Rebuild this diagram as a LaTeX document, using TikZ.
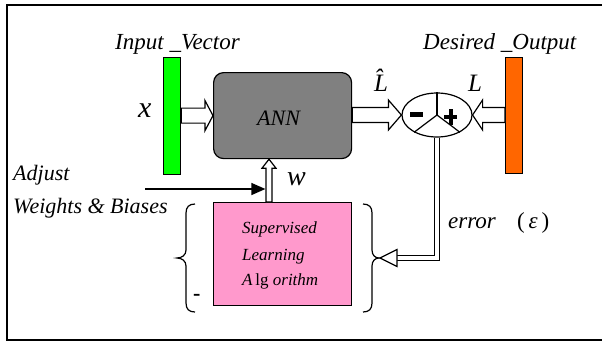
\documentclass[tikz,border=0pt]{standalone}
\usepackage{fontspec}
\setmainfont{Liberation Serif}
\usetikzlibrary{arrows.meta,calc,shapes.geometric}
\definecolor{vgreen}{RGB}{0,255,0}
\definecolor{vorange}{RGB}{255,102,0}
\definecolor{anngray}{RGB}{128,128,128}
\definecolor{pinkbox}{RGB}{255,153,204}
\newcommand\harrowh[5]{\path[hollow] let \p1=#1, \p2=#2 in
  (\x1,{\y2+#3}) -- ({\x2-#5},{\y2+#3}) -- ({\x2-#5},{\y2+#4}) -- (\x2,\y2)
  -- ({\x2-#5},{\y2-#4}) -- ({\x2-#5},{\y2-#3}) -- (\x1,{\y2-#3}) -- cycle;}
\newcommand\harrowv[5]{\path[hollow] let \p1=#1, \p2=#2 in
  ({\x2+#3},\y1) -- ({\x2+#3},{\y2-#5}) -- ({\x2+#4},{\y2-#5}) -- (\x2,\y2)
  -- ({\x2-#4},{\y2-#5}) -- ({\x2-#3},{\y2-#5}) -- ({\x2-#3},\y1) -- cycle;}
\begin{document}
\begin{tikzpicture}[x=1pt,y=-1pt,
  box/.style={draw, line width=1.2pt, inner sep=0, anchor=north west},
  lbl/.style={inner sep=0, anchor=base west, font=\itshape\fontsize{23}{26}\selectfont},
  big/.style={font=\itshape\fontsize{#1}{#1}\selectfont},
  hollow/.style={draw, line width=1.2pt, fill=white, line join=miter},
  thin/.style={line width=1.2pt}]
\useasboundingbox (0,0) rectangle (602,341);
\draw[line width=1.8pt] (7,5) rectangle (620,340);
% blocks
\node[box, fill=vgreen, minimum width=17pt, minimum height=117pt] (inv) at (163,57) {};
\node[box, fill=vorange, minimum width=17pt, minimum height=116pt] (outv) at (505,57) {};
\node[box, fill=anngray, rounded corners=10pt, minimum width=138pt, minimum height=86pt] (ann) at (213,72) {};
\node[box, fill=pinkbox, minimum width=138pt, minimum height=103pt] (sla) at (213,202) {};
\node[draw, thin, ellipse, minimum width=70pt, minimum height=44pt, inner sep=0, fill=white] (sum) at (437,115) {};
% summing junction details
\draw[thin] (sum.center) -- (sum.north);
\draw[thin] (sum.center) -- (sum.217);
\draw[thin] (sum.center) -- (sum.323);
\fill (410,112) rectangle (423,116.5);
\fill (444,115) rectangle (457,119);
\fill (448.5,109) rectangle (452.5,125);
% hollow arrows
\harrowh{(inv.east)}{(ann.west)}{7.5pt}{15pt}{8pt}
\harrowh{(ann.east)}{(sum.west)}{7.5pt}{15pt}{13pt}
\harrowh{(outv.west)}{(sum.east)}{7.5pt}{15pt}{(-10pt)}
\coordinate (wtip) at ($(ann.south west)+(56,0)$);
\coordinate (wbase) at ($(sla.north west)+(56,0)$);
\harrowv{(wbase)}{(wtip)}{3pt}{7pt}{9pt}
% error feedback
\coordinate (errtip) at (380,258);
\draw[line width=1.2pt, double=white, double distance=4pt] (sum.south) |- ($(errtip)+(17,0)$);
\draw[hollow] ($(errtip)+(17,-8.5)$) -- (errtip) -- ($(errtip)+(17,8.5)$) -- cycle;
% adjust arrow
\coordinate (adjs) at (145,189);
\draw[line width=1.3pt, -{Triangle[length=14pt,width=12pt]}] (adjs) -- ($(adjs -| wtip)+(-3.6,0)$);
% braces
\draw[thin] (195,204) .. controls (189,204) and (186,207) .. (186,213) -- (186,250)
  .. controls (186,255) and (182,258) .. (177,258) .. controls (182,258) and (186,261) .. (186,266)
  -- (186,303) .. controls (186,309) and (189,312) .. (195,312);
\draw[thin] (363,204) .. controls (369,204) and (372,207) .. (372,213) -- (372,250)
  .. controls (372,255) and (375,258) .. (379,258) .. controls (375,258) and (372,261) .. (372,266)
  -- (372,303) .. controls (372,309) and (369,312) .. (363,312);
% texts
\node[lbl] (tin) at (115,49) {Input \_Vector};
\node[lbl] (tout) at (423,49) {Desired \_Output};
\node[lbl, big=30] (tx) at (138,117) {x};
\node[lbl, big=22] (tann) at (257,125) {ANN};
\node[lbl, big=25] (tlhat) at (374,91) {\^{L}};
\node[lbl, big=25] (tl) at (468,91) {L};
\node[lbl, big=28] (tw) at (287,185) {w};
\node[lbl, big=22] (tadj) at (13,180) {Adjust};
\node[lbl, big=22] (twb) at (13,213) {Weights \& Biases};
\node[lbl, big=17] (t1) at (242,233) {Supervised};
\node[lbl, big=17] (t2) at (242,260) {Learning};
\node[lbl, big=17] (t3) at (242,285) {A\,{\upshape lg} orithm};
\node[lbl] (terr) at (448,228) {error};
\node[lbl] (teps) at (517,228) {{\upshape(}\,ε\,{\upshape)}};
\node[lbl, font=\bfseries\fontsize{22}{22}\selectfont] (tminus) at (193,300) {-};
\end{tikzpicture}
\end{document}
